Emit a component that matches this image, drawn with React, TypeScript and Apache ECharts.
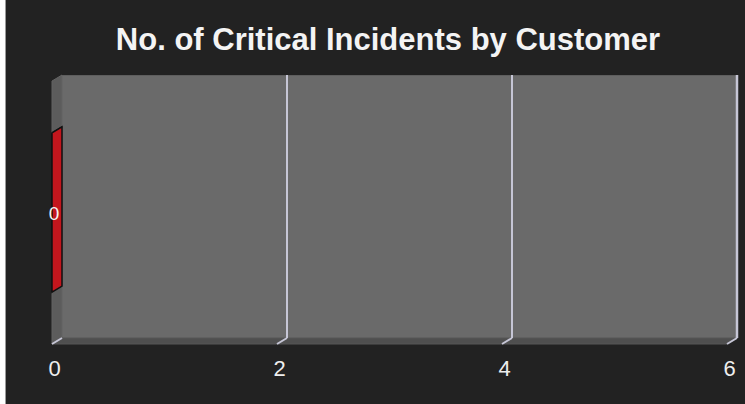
import React, { useEffect, useRef } from "react";
import * as echarts from "echarts";

const titleText = "No. of Critical Incidents by Customer";
const categories = ["Customer"];
const values = [0];
const tickValues = [0, 2, 4, 6];
const xMin = 0;
const xMax = 6;
const xInterval = 2;

const DEPTH_X = -10;
const DEPTH_Y = 6;
const FONT = "'Liberation Sans', Arial, Helvetica, sans-serif";

export default function App() {
  const ref = useRef<HTMLDivElement>(null);

  useEffect(() => {
    if (!ref.current) return;
    const chart = echarts.init(ref.current, undefined, { renderer: "svg" });

    const wallsRender = (params: any, api: any) => {
      const cs = params.coordSys;
      const gx = cs.x;
      const gy = cs.y;
      const gw = cs.width;
      const gh = cs.height;
      const bottom = gy + gh;
      const children: any[] = [];
      children.push({
        type: "polygon",
        shape: {
          points: [
            [gx, gy],
            [gx, bottom],
            [gx + DEPTH_X, bottom + DEPTH_Y],
            [gx + DEPTH_X, gy + DEPTH_Y],
          ],
        },
        style: { fill: "#5c5c5c", stroke: "#636363", lineWidth: 1 },
      });
      children.push({
        type: "polygon",
        shape: {
          points: [
            [gx, bottom],
            [gx + gw, bottom],
            [gx + gw + DEPTH_X, bottom + DEPTH_Y],
            [gx + DEPTH_X, bottom + DEPTH_Y],
          ],
        },
        style: { fill: "#4f4f4f", stroke: "#575757", lineWidth: 1 },
      });
      children.push({
        type: "line",
        shape: { x1: gx, y1: gy + 0.5, x2: gx + gw, y2: gy + 0.5 },
        style: { stroke: "#5e5e5e", lineWidth: 1 },
      });
      tickValues.forEach((v) => {
        const x = api.coord([v, 0])[0];
        const w = v === xMax ? 2.5 : 2;
        if (v > xMin) {
          children.push({
            type: "line",
            shape: { x1: x, y1: gy, x2: x, y2: bottom },
            style: { stroke: "#c6c6d6", lineWidth: w },
          });
        }
        children.push({
          type: "line",
          shape: { x1: x, y1: bottom, x2: x + DEPTH_X, y2: bottom + DEPTH_Y },
          style: { stroke: "#c6c6d6", lineWidth: 2 },
        });
      });
      return { type: "group", children };
    };

    const barRender = (params: any, api: any) => {
      const v = api.value(0);
      const cat = api.value(1);
      const p0 = api.coord([0, cat]);
      const p1 = api.coord([v, cat]);
      const band = api.size([0, 1])[1];
      const h = band * 0.605;
      const top = p0[1] - h / 2;
      const bot = p0[1] + h / 2;
      const style = { fill: "#c3161d", stroke: "#111111", lineWidth: 1.5 };
      return {
        type: "group",
        children: [
          {
            type: "polygon",
            shape: {
              points: [
                [p0[0] + DEPTH_X, top + DEPTH_Y],
                [p1[0] + DEPTH_X, top + DEPTH_Y],
                [p1[0] + DEPTH_X, bot + DEPTH_Y],
                [p0[0] + DEPTH_X, bot + DEPTH_Y],
              ],
            },
            style,
          },
          {
            type: "polygon",
            shape: {
              points: [
                [p0[0], top],
                [p1[0], top],
                [p1[0] + DEPTH_X, top + DEPTH_Y],
                [p0[0] + DEPTH_X, top + DEPTH_Y],
              ],
            },
            style,
          },
          {
            type: "polygon",
            shape: {
              points: [
                [p1[0], top],
                [p1[0], bot],
                [p1[0] + DEPTH_X, bot + DEPTH_Y],
                [p1[0] + DEPTH_X, top + DEPTH_Y],
              ],
            },
            style,
          },
          {
            type: "text",
            style: {
              text: String(v),
              x: p1[0] + DEPTH_X + 2,
              y: p0[1] + DEPTH_Y + 1,
              align: "center",
              verticalAlign: "middle",
              fill: "#f2f2f2",
              font: `19px ${FONT}`,
            },
          },
        ],
      };
    };

    chart.setOption({
      animation: false,
      backgroundColor: "#222222",
      title: {
        text: titleText,
        left: 383,
        top: 19,
        textAlign: "center",
        textStyle: {
          color: "#f4f4f4",
          fontSize: 31,
          fontWeight: "bold",
          fontFamily: FONT,
        },
      },
      graphic: [
        { type: "rect", shape: { x: 0, y: 0, width: 5, height: 404 }, style: { fill: "#ffffff" } },
        { type: "rect", shape: { x: 5, y: 0, width: 1, height: 404 }, style: { fill: "#9a9a9a" } },
      ],
      grid: {
        left: 62,
        right: 8,
        top: 75,
        bottom: 66,
        show: true,
        backgroundColor: "#6a6a6a",
        borderWidth: 0,
      },
      xAxis: {
        type: "value",
        min: xMin,
        max: xMax,
        interval: xInterval,
        axisLine: { show: false },
        axisTick: { show: false },
        splitLine: { show: false },
        axisLabel: {
          color: "#eeeeee",
          fontSize: 22,
          fontFamily: FONT,
          margin: 19,
          padding: [0, 15, 0, 0],
        },
      },
      yAxis: {
        type: "category",
        data: categories,
        axisLine: { show: false },
        axisTick: { show: false },
        axisLabel: { show: false },
        splitLine: { show: false },
      },
      series: [
        {
          type: "custom",
          renderItem: wallsRender,
          data: [[0, 0]],
          z: 1,
          silent: true,
        },
        {
          type: "custom",
          renderItem: barRender,
          data: values.map((v, i) => [v, i]),
          encode: { x: 0, y: 1 },
          z: 3,
        },
      ],
    });

    return () => chart.dispose();
  }, []);

  return (
    <div
      ref={ref}
      style={{ position: "absolute", left: 0, top: 0, width: 745, height: 404 }}
    />
  );
}
